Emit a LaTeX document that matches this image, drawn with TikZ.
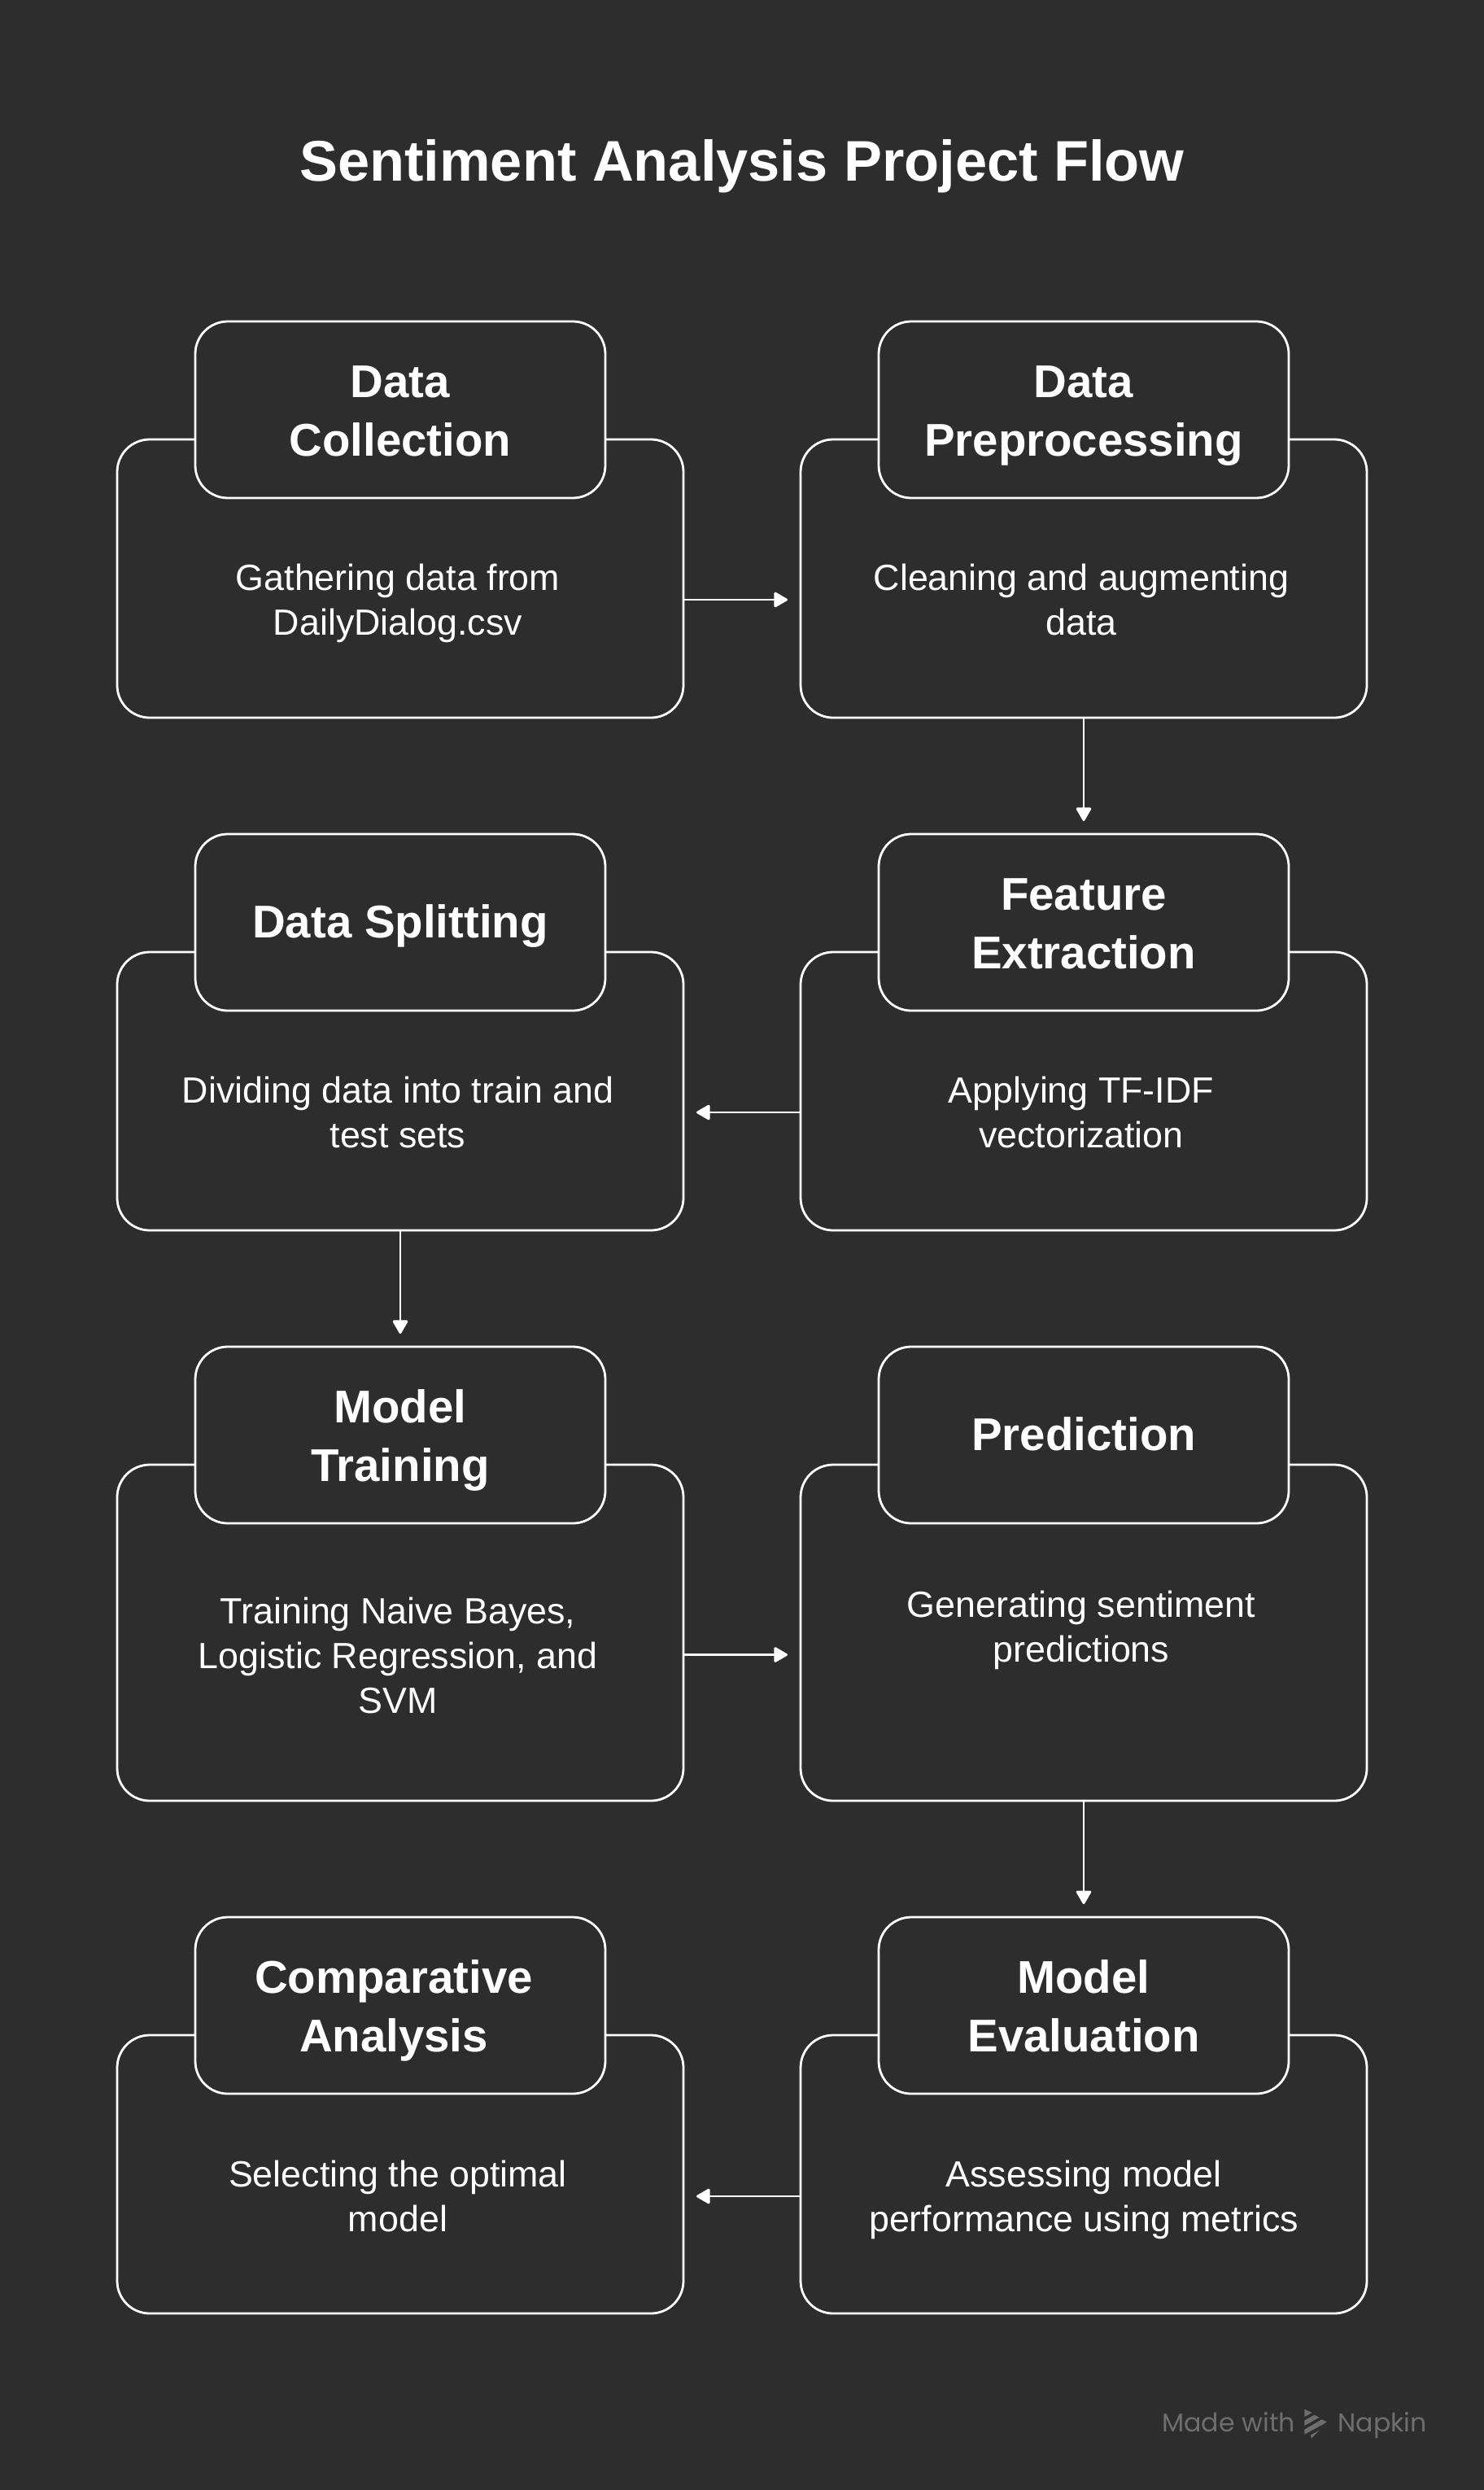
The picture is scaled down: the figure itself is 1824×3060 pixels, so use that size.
\documentclass[tikz,border=0pt]{standalone}
\usepackage{fontspec}
\usepackage{xcolor}
\usetikzlibrary{arrows.meta,positioning,calc}
\setmainfont{Liberation Sans}
\newfontfamily\markfont{Poppins}
\definecolor{bgdark}{HTML}{2D2D2D}
\definecolor{markgray}{HTML}{6E6E6E}

\begin{document}
\begin{tikzpicture}[
    x=0.5pt, y=-0.5pt,
    >={Triangle[length=9pt,width=10pt,round]},
    bodybox/.style={draw=white, line width=1.4pt, outer sep=0pt, rounded corners=20pt, fill=bgdark, minimum width=348pt, minimum height=171pt},
    tallbox/.style={bodybox, minimum height=206.5pt},
    headbase/.style={draw=white, line width=1.4pt, outer sep=0pt, rounded corners=20pt, fill=bgdark, minimum width=252pt, minimum height=108.5pt, above=-36pt of #1, align=center, text=white, font=\fontsize{28.2}{36}\selectfont\bfseries, execute at end node=\strut},
    headbox/.style={headbase=#1, execute at begin node={\rule{0pt}{68pt}}},
    headone/.style={headbase=#1, execute at begin node={\rule{0pt}{30pt}}},
    bodytext/.style={text=white, align=center, font=\fontsize{22.4}{27.5}\selectfont, execute at begin node={\rule{0pt}{51.5pt}}, execute at end node=\strut},
    threeline/.style={execute at begin node={\rule{0pt}{80pt}}},
    arr/.style={->, draw=white, line width=1.4pt, shorten >=8pt}
]
    \fill[bgdark] (0,0) rectangle (1824,3060);
    \useasboundingbox (0,0) rectangle (1824,3060);

    \node[text=white, font=\fontsize{35.2}{44}\selectfont\bfseries] (title) at (912,204) {Sentiment Analysis Project Flow};

    % body boxes
    \node[bodybox] (coll) at (492,711) {};
    \node[bodybox, right=72pt of coll] (prep) {};
    \node[bodybox, below=144pt of prep] (feat) {};
    \node[bodybox, below=144pt of coll] (split) {};
    \node[tallbox, below=144pt of split] (train) {};
    \node[tallbox, below=144pt of feat] (pred) {};
    \node[bodybox, below=144pt of pred] (eval) {};
    \node[bodybox, below=144pt of train] (comp) {};

    % header boxes
    \node[headbox=coll] (collh) {Data\\Collection};
    \node[headbox=prep] (preph) {Data\\Preprocessing};
    \node[headbox=feat] (feath) {Feature\\Extraction};
    \node[headone=split] (splith) {Data Splitting};
    \node[headbox=train] (trainh) {Model\\Training};
    \node[headone=pred] (predh) {Prediction};
    \node[headbox=eval] (evalh) {Model\\Evaluation};
    \node[headbox=comp] (comph) {\hspace*{-8pt}Comparative\\\hspace*{-8pt}Analysis};

    % body texts
    \node[bodytext] (collt) at ([xshift=-1.5pt,yshift=-13pt]coll.center) {Gathering data from\\DailyDialog.csv};
    \node[bodytext] (prept) at ([xshift=-1.5pt,yshift=-13pt]prep.center) {Cleaning and augmenting\\data};
    \node[bodytext] (featt) at ([xshift=-1.5pt,yshift=-13pt]feat.center) {Applying TF-IDF\\vectorization};
    \node[bodytext] (splitt) at ([xshift=-1.5pt,yshift=-13pt]split.center) {Dividing data into train and\\test sets};
    \node[bodytext, threeline] (traint) at ([xshift=-1.5pt,yshift=-13.5pt]train.center) {Training Naive Bayes,\\Logistic Regression, and\\SVM};
    \node[bodytext] (predt) at ([xshift=-1.5pt,yshift=3.5pt]pred.center) {Generating sentiment\\predictions};
    \node[bodytext] (evalt) at ([yshift=-13.5pt]eval.center) {Assessing model\\performance using metrics};
    \node[bodytext] (compt) at ([xshift=-1.5pt,yshift=-13.5pt]comp.center) {Selecting the optimal\\model};

    % connectors
    \draw[arr] (coll.east |- collt) -- (prep.west |- collt);
    \draw[arr] (prep) -- (feath);
    \draw[arr] (feat.west |- featt) -- (split.east |- featt);
    \draw[arr] (split) -- (trainh);
    \draw[arr] (train.east |- traint) -- (pred.west |- traint);
    \draw[arr] (pred) -- (evalh);
    \draw[arr] (eval.west |- evalt) -- (comp.east |- evalt);

    % watermark
    \node[text=markgray, font=\markfont\fontsize{15.8}{20}\selectfont, anchor=base west, inner sep=0pt] (made) at (1428,2988) {Made with};
    \node[text=markgray, font=\markfont\fontsize{15.8}{20}\selectfont, anchor=base west, inner sep=0pt] (napkin) at (1644,2988) {Napkin};
    \fill[markgray] (1603.3,2960.7) -- (1612.7,2965) -- (1603.3,2970) -- cycle;
    \fill[markgray] (1603.3,2974.3) -- (1615.7,2967.7) -- (1621.7,2970.7) -- (1603.3,2981) -- cycle;
    \fill[markgray] (1603.3,2985.7) -- (1624.3,2973.3) -- (1630.7,2976) -- (1626.7,2979) -- (1603.3,2991.7) -- cycle;
    \fill[markgray] (1611,2992.3) -- (1621.7,2986.7) -- (1611.7,2996.7) -- cycle;
\end{tikzpicture}
\end{document}
